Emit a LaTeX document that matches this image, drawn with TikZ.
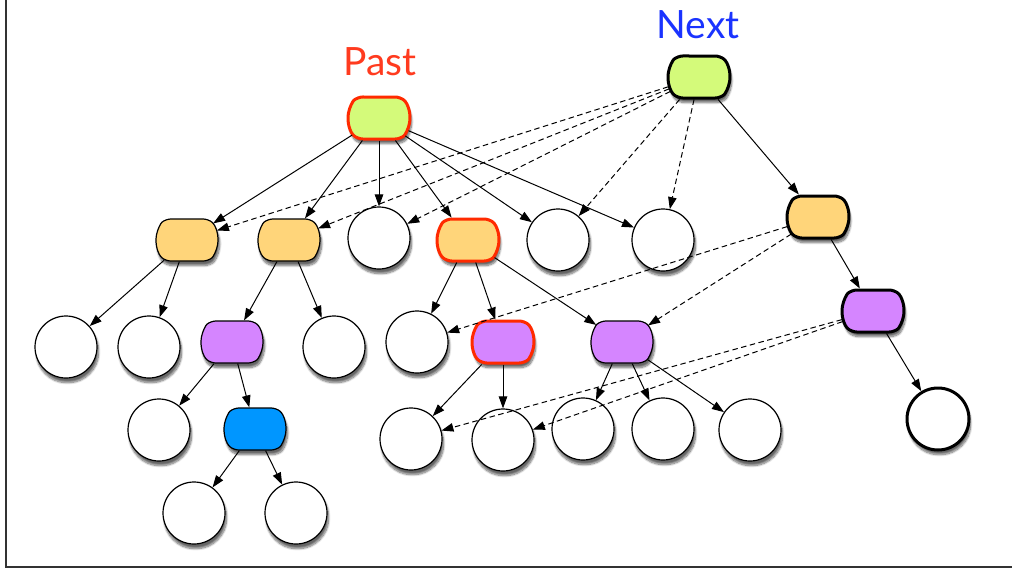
\documentclass[tikz,border=0pt]{standalone}
\usepackage{fontspec}
\setmainfont{Lato}
\usetikzlibrary{shapes.misc,arrows.meta,shadows.blur}

\definecolor{limefill}{HTML}{D4FA7A}
\definecolor{sandfill}{HTML}{FFD57A}
\definecolor{lilacfill}{HTML}{D585FF}
\definecolor{skyfill}{HTML}{0096FF}
\definecolor{hotred}{HTML}{FF2A00}
\definecolor{pastred}{HTML}{FF3B1F}
\definecolor{nextblue}{HTML}{1A33FF}

\tikzset{
  soft/.style={blur shadow={shadow xshift=1.5pt, shadow yshift=-4.5pt,
      shadow opacity=60, shadow blur steps=10, shadow blur extra rounding=2pt}},
  box/.style={rounded rectangle, rounded rectangle arc length=100,
      rounded corners=5pt,
      minimum width=62pt, minimum height=42pt, inner sep=0pt,
      draw=black, line width=1.2pt, soft},
  leaf/.style={circle, minimum size=62pt, inner sep=0pt, draw=black,
      fill=white, line width=1.2pt, soft},
  hot/.style={draw=hotred, line width=3pt},
  heavy/.style={line width=3pt},
  edge/.style={-{Triangle[length=12pt,width=8.5pt]}, line width=1pt, sharp corners},
  ghost/.style={edge, dash pattern=on 5.5pt off 3.5pt},
  title/.style={font=\fontsize{39}{41}\selectfont, inner sep=0pt},
}

\begin{document}
\begin{tikzpicture}[x=1pt,y=-1pt]
\useasboundingbox (0,0) rectangle (1012,570);

% frame
\draw[line width=2pt, black!80] (6,0) -- (6,567) -- (1012,567);

% labels
\node[title, text=pastred] (pastlbl) at (380,62) {Past};
\node[title, text=nextblue] (nextlbl) at (698,25) {Next};

% top nodes
\node[box, hot, fill=limefill] (P) at (379,118) {};
\node[box, heavy, fill=limefill] (N) at (699,77) {};

% second row
\node[box, fill=sandfill] (A) at (187,240) {};
\node[box, fill=sandfill] (B) at (289,240) {};
\node[leaf] (c1) at (379,238) {};
\node[box, hot, fill=sandfill] (D) at (468,240) {};
\node[leaf] (c2) at (558,240) {};
\node[leaf] (c3) at (663,240) {};

% right branch
\node[box, heavy, fill=sandfill] (E) at (818,217) {};
\node[box, heavy, fill=lilacfill] (F) at (873,311) {};
\node[leaf, heavy] (G) at (938,419) {};

% third row
\node[leaf] (c4) at (66,347) {};
\node[leaf] (c5) at (149,347) {};
\node[box, fill=lilacfill] (H) at (232,342) {};
\node[leaf] (c6) at (334,347) {};
\node[leaf] (c7) at (417,342) {};
\node[box, hot, fill=lilacfill] (I) at (503,342) {};
\node[box, fill=lilacfill] (J) at (622,342) {};

% fourth row
\node[leaf] (c8) at (159,430) {};
\node[box, fill=skyfill] (K) at (255,429) {};
\node[leaf] (c9) at (411,439) {};
\node[leaf] (c10) at (503,440) {};
\node[leaf] (c11) at (583,429) {};
\node[leaf] (c12) at (663,429) {};
\node[leaf] (c13) at (750,430) {};

% fifth row
\node[leaf] (c14) at (194,513) {};
\node[leaf] (c15) at (296,513) {};

% tree edges
\foreach \t in {A,B,c1,D,c2,c3} \draw[edge] (P) -- (\t);
\draw[edge] (A) -- (c4);
\draw[edge] (A) -- (c5);
\draw[edge] (B) -- (H);
\draw[edge] (B) -- (c6);
\draw[edge] (H) -- (c8);
\draw[edge] (H) -- (K);
\draw[edge] (K) -- (c14);
\draw[edge] (K) -- (c15);
\draw[edge] (D) -- (c7);
\draw[edge] (D) -- (I);
\draw[edge] (D) -- (J);
\draw[edge] (I) -- (c9);
\draw[edge] (I) -- (c10);
\draw[edge] (J) -- (c11);
\draw[edge] (J) -- (c12);
\draw[edge] (J) -- (c13);
\draw[edge] (N) -- (E);
\draw[edge] (E) -- (F);
\draw[edge] (F) -- (G);

% dashed links
\foreach \t in {A,B,c1,c2,c3} \draw[ghost] (N) -- (\t);
\draw[ghost] (E) -- (c7);
\draw[ghost] (E) -- (J);
\draw[ghost] (F) -- (c9);
\draw[ghost] (F) -- (c10);
\end{tikzpicture}
\end{document}
